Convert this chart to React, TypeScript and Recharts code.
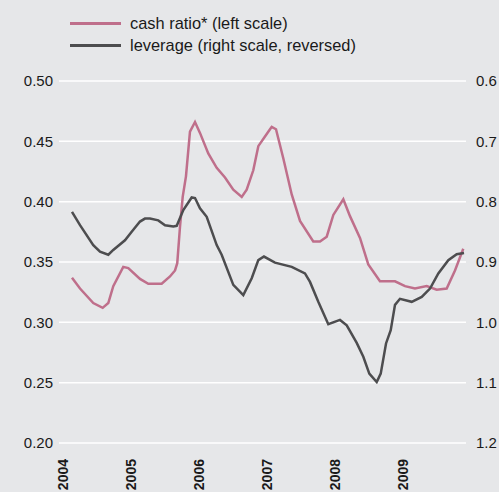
import React from 'react'
import { LineChart, Line, XAxis, YAxis, CartesianGrid } from 'recharts'

// decimal years
const cashDates = [
  2004.128, 2004.246, 2004.441, 2004.579, 2004.662, 2004.735, 2004.882, 2004.956, 2005.128, 2005.25,
  2005.447, 2005.569, 2005.643, 2005.676, 2005.716, 2005.756, 2005.804, 2005.863, 2005.937, 2006.01,
  2006.132, 2006.256, 2006.378, 2006.5, 2006.624, 2006.697, 2006.794, 2006.868, 2006.966, 2007.04,
  2007.065, 2007.128, 2007.235, 2007.359, 2007.481, 2007.676, 2007.775, 2007.874, 2007.971, 2008.118,
  2008.216, 2008.363, 2008.485, 2008.657, 2008.878, 2009.025, 2009.172, 2009.344, 2009.491, 2009.638,
  2009.76, 2009.882,
]
const cashRatio = [
  0.337, 0.328, 0.316, 0.312, 0.316, 0.330, 0.346, 0.345, 0.336, 0.332,
  0.332, 0.338, 0.343, 0.349, 0.379, 0.404, 0.421, 0.458, 0.466, 0.457,
  0.440, 0.428, 0.420, 0.410, 0.404, 0.410, 0.426, 0.446, 0.454, 0.460,
  0.462, 0.460, 0.436, 0.406, 0.384, 0.367, 0.367, 0.371, 0.389, 0.402,
  0.388, 0.370, 0.348, 0.334, 0.334, 0.330, 0.328, 0.330, 0.327, 0.328,
  0.343, 0.361,
]

const levDates = [
  2004.128, 2004.246, 2004.441, 2004.54, 2004.662, 2004.735, 2004.907, 2005.006, 2005.128, 2005.201,
  2005.275, 2005.397, 2005.496, 2005.618, 2005.668, 2005.765, 2005.888, 2005.937, 2006.01, 2006.109,
  2006.256, 2006.329, 2006.5, 2006.647, 2006.771, 2006.868, 2006.951, 2007.113, 2007.359, 2007.554,
  2007.628, 2007.75, 2007.897, 2008.069, 2008.168, 2008.315, 2008.412, 2008.5, 2008.609, 2008.668,
  2008.746, 2008.815, 2008.878, 2008.951, 2009.124, 2009.271, 2009.393, 2009.515, 2009.662, 2009.785,
  2009.893,
]
const leverage = [
  0.817, 0.839, 0.872, 0.883, 0.888, 0.880, 0.864, 0.850, 0.833, 0.828,
  0.828, 0.831, 0.839, 0.841, 0.840, 0.814, 0.793, 0.794, 0.811, 0.825,
  0.872, 0.888, 0.938, 0.955, 0.927, 0.897, 0.891, 0.901, 0.908, 0.919,
  0.933, 0.966, 1.003, 0.996, 1.005, 1.034, 1.057, 1.085, 1.099, 1.085,
  1.035, 1.013, 0.971, 0.961, 0.966, 0.958, 0.944, 0.919, 0.897, 0.887,
  0.885,
]

const years = [2004, 2005, 2006, 2007, 2008, 2009]
const leftTicks = [0.2, 0.25, 0.3, 0.35, 0.4, 0.45, 0.5]
const rightTicks = [0.6, 0.7, 0.8, 0.9, 1.0, 1.1, 1.2]

const PINK = '#bf6f8b'
const GREY = '#4d4d4f'
const BG = '#e6e7e9'
const TEXT = '#1a1a1a'
const FONT = '"Liberation Sans", Arial, Helvetica, sans-serif'

type Row = { t: number; cash?: number; lev?: number }

const rows: Row[] = [
  ...cashDates.map((t, i) => ({ t, cash: cashRatio[i] })),
  ...levDates.map((t, i) => ({ t, lev: leverage[i] })),
].sort((a, b) => a.t - b.t)

const YearTick = (props: any) => {
  const { x, y, payload } = props
  return (
    <text
      x={x}
      y={y}
      dy="0.35em"
      transform={`rotate(-90, ${x}, ${y})`}
      textAnchor="end"
      fill={TEXT}
      fontSize={14}
      fontWeight="bold"
      fontFamily={FONT}
    >
      {payload.value}
    </text>
  )
}

const legendItems = [
  { label: 'cash ratio* (left scale)', color: PINK },
  { label: 'leverage (right scale, reversed)', color: GREY },
]

export default function App() {
  return (
    <div style={{ position: 'fixed', left: 0, top: 0, width: 499, height: 492, background: BG, fontFamily: FONT }}>
      <div style={{ position: 'absolute', left: 70, top: 12 }}>
        {legendItems.map((item) => (
          <div key={item.label} style={{ display: 'flex', alignItems: 'center', height: 22 }}>
            <div style={{ width: 51, height: 3, background: item.color, marginRight: 9 }} />
            <span style={{ fontSize: 16.4, color: TEXT }}>{item.label}</span>
          </div>
        ))}
      </div>
      <LineChart width={499} height={492} data={rows} margin={{ top: 81, right: 0, bottom: 0, left: 0 }}>
        <CartesianGrid yAxisId="left" vertical={false} stroke="#ffffff" strokeWidth={1.5} />
        <XAxis
          dataKey="t"
          type="number"
          domain={[2003.937, 2009.922]}
          ticks={years}
          allowDataOverflow
          axisLine={false}
          tickLine={false}
          tickSize={6}
          tickMargin={10}
          height={49}
          interval={0}
          tick={<YearTick />}
        />
        <YAxis
          yAxisId="left"
          orientation="left"
          width={59}
          domain={[0.2, 0.5]}
          ticks={leftTicks}
          axisLine={false}
          tickLine={false}
          tickSize={4}
          tickMargin={2}
          interval={0}
          tickFormatter={(v: number) => v.toFixed(2)}
          tick={{ fill: TEXT, fontSize: 15, fontFamily: FONT }}
        />
        <YAxis
          yAxisId="right"
          orientation="right"
          width={33}
          domain={[0.6, 1.2]}
          reversed
          ticks={rightTicks}
          axisLine={false}
          tickLine={false}
          tickSize={8}
          tickMargin={2}
          interval={0}
          tickFormatter={(v: number) => v.toFixed(1)}
          tick={{ fill: TEXT, fontSize: 15, fontFamily: FONT, textAnchor: 'start' }}
        />
        <Line
          yAxisId="left"
          type="linear"
          dataKey="cash"
          stroke={PINK}
          strokeWidth={2.5}
          dot={false}
          connectNulls
          isAnimationActive={false}
        />
        <Line
          yAxisId="right"
          type="linear"
          dataKey="lev"
          stroke={GREY}
          strokeWidth={2.5}
          dot={false}
          connectNulls
          isAnimationActive={false}
        />
      </LineChart>
    </div>
  )
}
